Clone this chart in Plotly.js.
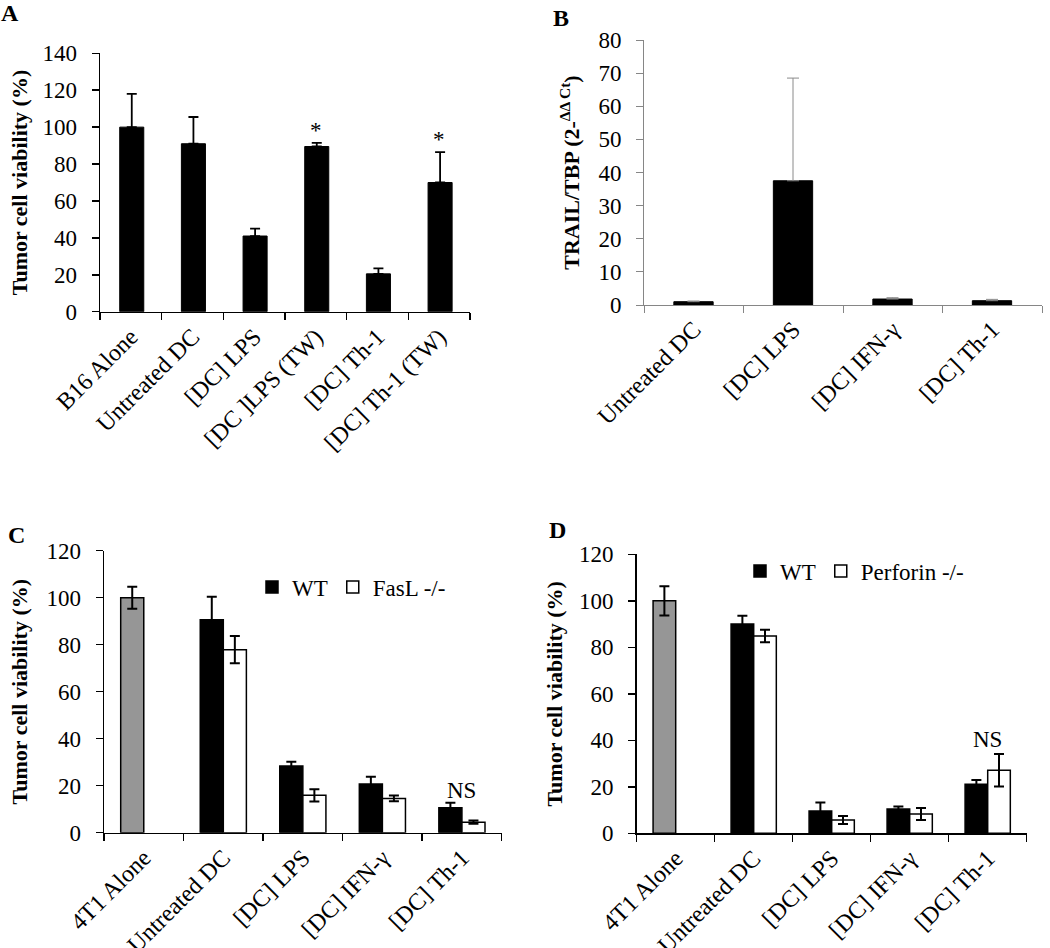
<!DOCTYPE html>
<html>
<head>
<meta charset="utf-8">
<script src="https://cdn.plot.ly/plotly-3.0.1.min.js"></script>
<style>html,body{margin:0;padding:0;background:#fff;}#chart{width:1050px;height:948px;}</style>
</head>
<body>
<div id="chart"></div>
<script>
// ---------- data ----------
const catsA = ['B16 Alone', 'Untreated DC', '[DC] LPS', '[DC ]LPS (TW)', '[DC] Th-1', '[DC] Th-1 (TW)'];
const valsA = [100, 91, 41, 89.5, 20.5, 70];
const errA = [18, 14.5, 4, 2, 3, 16.5];
const sigA = ['', '', '', '*', '', '*'];

const catsB = ['Untreated DC', '[DC] LPS', '[DC] IFN-γ', '[DC] Th-1'];
const valsB = [1, 37.5, 1.8, 1.3];
const errB = [0.2, 31, 0.4, 0.4];

const catsCD = ['4T1 Alone', 'Untreated DC', '[DC] LPS', '[DC] IFN-γ', '[DC] Th-1'];
const aloneC = [100];
const aloneErrC = [4.7];
const wtC = [90.6, 28.4, 20.7, 10.6];
const wtErrC = [9.8, 1.8, 3.1, 2.1];
const koC = [77.9, 15.9, 14.6, 4.5];
const koErrC = [5.8, 2.6, 1.2, 0.7];
const sigC = ['', '', '', 'NS'];

const aloneD = [100];
const aloneErrD = [6.3];
const wtD = [90, 9.6, 10.5, 21.1];
const wtErrD = [3.6, 3.6, 1.0, 1.8];
const koD = [84.9, 5.7, 8.3, 27.1];
const koErrD = [2.7, 1.7, 2.6, 7];
const sigD = ['', '', '', 'NS'];

// ---------- style ----------
const FF = '"Liberation Serif", "Times New Roman", serif';
const yTickFont = {family: FF, size: 23, color: '#000'};
const xTickFont = {family: FF, size: 24, color: '#000'};
const titleFont = {family: FF, size: 22, color: '#000', weight: 'bold'};
const treat = catsCD.slice(1);

function errBar(arr, col, th, w, sym) {
  const e = {type: 'data', array: arr, color: col, thickness: th, width: w, visible: true};
  if (sym === false) { e.symmetric = false; e.arrayminus = arr.map(() => 0); }
  return e;
}

const traces = [
  // A
  {type: 'bar', x: catsA, y: valsA, xaxis: 'x', yaxis: 'y', width: 0.39, offset: -0.18,
   marker: {color: '#000', line: {color: '#000', width: 1}},
   error_y: errBar(errA, '#000', 1.8, 5, false), showlegend: false},
  // B
  {type: 'bar', x: catsB, y: valsB, xaxis: 'x2', yaxis: 'y2', width: 0.395, offset: -0.2,
   marker: {color: '#000', line: {color: '#000', width: 1}},
   error_y: errBar(errB, '#8a8a8a', 1, 6, false), showlegend: false},
  // C
  {type: 'bar', x: ['4T1 Alone'], y: aloneC, xaxis: 'x3', yaxis: 'y3', width: 0.29, offset: -0.29,
   marker: {color: '#969696', line: {color: '#000', width: 1.5}},
   error_y: errBar(aloneErrC, '#000', 2, 5), showlegend: false},
  {type: 'bar', name: 'WT', x: treat, y: wtC, xaxis: 'x3', yaxis: 'y3', width: 0.29, offset: -0.29,
   marker: {color: '#000', line: {color: '#000', width: 1.5}},
   error_y: errBar(wtErrC, '#000', 2, 5), legend: 'legend'},
  {type: 'bar', name: 'FasL -/-', x: treat, y: koC, xaxis: 'x3', yaxis: 'y3', width: 0.29, offset: 0,
   marker: {color: '#fff', line: {color: '#000', width: 1.5}},
   error_y: errBar(koErrC, '#000', 2, 5), legend: 'legend'},
  // D
  {type: 'bar', x: ['4T1 Alone'], y: aloneD, xaxis: 'x4', yaxis: 'y4', width: 0.29, offset: -0.29,
   marker: {color: '#969696', line: {color: '#000', width: 1.5}},
   error_y: errBar(aloneErrD, '#000', 2, 5), showlegend: false},
  {type: 'bar', name: 'WT', x: treat, y: wtD, xaxis: 'x4', yaxis: 'y4', width: 0.29, offset: -0.29,
   marker: {color: '#000', line: {color: '#000', width: 1.5}},
   error_y: errBar(wtErrD, '#000', 2, 5), legend: 'legend2'},
  {type: 'bar', name: 'Perforin -/-', x: treat, y: koD, xaxis: 'x4', yaxis: 'y4', width: 0.29, offset: 0,
   marker: {color: '#fff', line: {color: '#000', width: 1.5}},
   error_y: errBar(koErrD, '#000', 2, 5), legend: 'legend2'}
];

function xAx(dom, anchor, cats, col, lw) {
  return {domain: dom, anchor: anchor, type: 'category', categoryorder: 'array', categoryarray: cats,
    range: [-0.5, cats.length - 0.5], showline: true, linecolor: col, linewidth: lw,
    ticks: 'outside', tickson: 'boundaries', ticklen: 7, tickcolor: col, tickwidth: lw,
    tickangle: -45, tickfont: xTickFont, showgrid: false, zeroline: false, fixedrange: true};
}
function yAx(dom, anchor, max, dt, title, col, lw, standoff) {
  return {domain: dom, anchor: anchor, range: [0, max], dtick: dt, tick0: 0,
    showline: true, linecolor: col, linewidth: lw, ticks: 'outside', ticklen: 7, tickcolor: col, tickwidth: lw,
    ticklabelposition: 'outside', ticklabelstandoff: 10,
    tickfont: yTickFont, showgrid: false, zeroline: false, fixedrange: true,
    title: {text: title, font: titleFont, standoff: standoff}};
}

const annotations = [];
function letter(t, x, y) {
  annotations.push({text: '<b>' + t + '</b>', xref: 'paper', yref: 'paper', x: x / 1050, y: 1 - y / 948,
    xanchor: 'center', yanchor: 'middle', showarrow: false, font: {family: FF, size: 24, color: '#000'}});
}
letter('A', 10, 13); letter('B', 561, 18); letter('C', 16, 535); letter('D', 557, 530);

sigA.forEach((s, i) => { if (s) annotations.push({text: s, x: catsA[i], y: valsA[i] + errA[i], xref: 'x', yref: 'y',
  yanchor: 'bottom', yshift: -2, showarrow: false, font: {family: FF, size: 23, color: '#000'}}); });
sigC.forEach((s, i) => { if (s) annotations.push({text: s, x: treat[i], y: Math.max(wtC[i] + wtErrC[i], koC[i] + koErrC[i]),
  xref: 'x3', yref: 'y3', yanchor: 'bottom', yshift: -2, showarrow: false, font: {family: FF, size: 23, color: '#000'}}); });
sigD.forEach((s, i) => { if (s) annotations.push({text: s, x: treat[i], y: Math.max(wtD[i] + wtErrD[i], koD[i] + koErrD[i]),
  xref: 'x4', yref: 'y4', yanchor: 'bottom', yshift: 0, showarrow: false, font: {family: FF, size: 23, color: '#000'}}); });

const legFont = {family: FF, size: 23, color: '#000'};
const layout = {
  width: 1050, height: 948, margin: {l: 0, r: 0, t: 0, b: 0},
  paper_bgcolor: '#fff', plot_bgcolor: '#fff', barmode: 'overlay',
  font: {family: FF, color: '#000'},
  xaxis: xAx([100 / 1050, 470 / 1050], 'y', catsA, '#000', 1.5),
  yaxis: yAx([1 - 311.7 / 948, 1 - 53.3 / 948], 'x', 140, 20, 'Tumor cell viability (%)', '#000', 1.5, 8),
  xaxis2: xAx([644 / 1050, 1042 / 1050], 'y2', catsB, '#868686', 1),
  yaxis2: yAx([1 - 305 / 948, 1 - 40 / 948], 'x2', 80, 10, 'TRAIL/TBP (2-<sup>ΔΔ Ct</sup>)', '#868686', 1, 12),
  xaxis3: xAx([104 / 1050, 501.7 / 1050], 'y3', catsCD, '#000', 1.5),
  yaxis3: yAx([1 - 832.7 / 948, 1 - 550.7 / 948], 'x3', 120, 20, 'Tumor cell viability (%)', '#000', 1.5, 12),
  xaxis4: xAx([636.7 / 1050, 1026.7 / 1050], 'y4', catsCD, '#000', 1.5),
  yaxis4: yAx([1 - 833.3 / 948, 1 - 554.3 / 948], 'x4', 120, 20, 'Tumor cell viability (%)', '#000', 1.5, 10),
  legend: {orientation: 'h', x: 252 / 1050, y: 1 - 587 / 948, xanchor: 'left', yanchor: 'middle',
    font: legFont, bgcolor: 'rgba(0,0,0,0)', itemclick: false, itemdoubleclick: false},
  legend2: {orientation: 'h', x: 740 / 1050, y: 1 - 571 / 948, xanchor: 'left', yanchor: 'middle',
    font: legFont, bgcolor: 'rgba(0,0,0,0)', itemclick: false, itemdoubleclick: false},
  annotations: annotations,
  showlegend: true
};

Plotly.newPlot('chart', traces, layout, {displayModeBar: false, staticPlot: true});
</script>
</body>
</html>
